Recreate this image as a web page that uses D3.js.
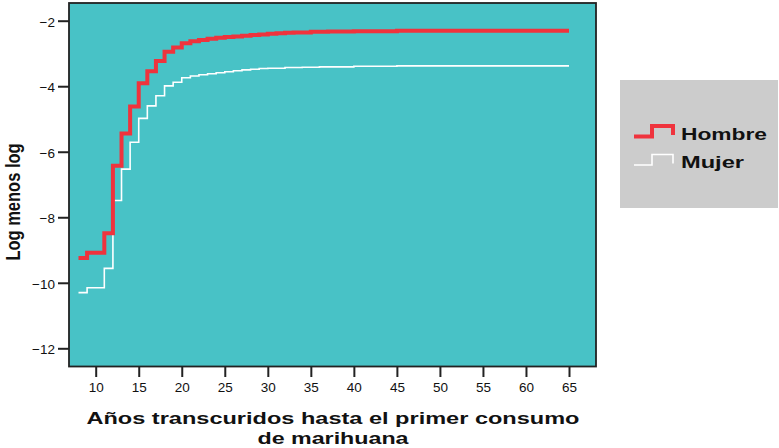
<!DOCTYPE html>
<html><head><meta charset="utf-8">
<script src="https://cdn.jsdelivr.net/npm/d3@7"></script>
<style>body{margin:0;background:#fff}svg{display:block}text{font-family:"Liberation Sans",Arial,sans-serif}</style>
</head><body><svg id="c" width="779" height="448"></svg>
<script>
// Data
const hombreTimes  = [8, 9, 11, 12, 13, 14, 15, 16, 17, 18, 19, 20, 21, 22, 23, 24, 25, 26, 27, 28, 29, 30, 31, 32, 33, 35, 37, 40, 45, 65];
const hombreValues = [-9.24, -9.08, -8.49, -6.43, -5.44, -4.62, -3.91, -3.54, -3.23, -2.95, -2.82, -2.69, -2.63, -2.59, -2.55, -2.52, -2.50, -2.48, -2.46, -2.44, -2.42, -2.40, -2.38, -2.37, -2.36, -2.34, -2.33, -2.32, -2.31, -2.31];
const mujerTimes   = [8, 9, 11, 12, 13, 14, 15, 16, 17, 18, 19, 20, 21, 22, 23, 24, 25, 26, 27, 28, 29, 30, 32, 34, 36, 40, 45, 65];
const mujerValues  = [-10.30, -10.15, -9.56, -7.49, -6.53, -5.71, -4.98, -4.60, -4.29, -3.99, -3.88, -3.74, -3.69, -3.65, -3.62, -3.59, -3.56, -3.53, -3.50, -3.48, -3.46, -3.45, -3.43, -3.42, -3.41, -3.39, -3.38, -3.38];
const xTicks = [10, 15, 20, 25, 30, 35, 40, 45, 50, 55, 60, 65];
const yTicks = [-2, -4, -6, -8, -10, -12];
const seriesNames = ["Hombre", "Mujer"];
const xTitle = ["Años transcuridos hasta el primer consumo", "de marihuana"];
const yTitle = "Log menos log";

const svg = d3.select("#c");
const x = d3.scaleLinear().domain([10, 65]).range([95.7, 569]);
const y = d3.scaleLinear().domain([-2, -12]).range([20.7, 348.3]);
const plot = {x0: 69, x1: 596, y0: 3, y1: 366.5};

svg.append("rect").attr("x", plot.x0).attr("y", plot.y0)
  .attr("width", plot.x1 - plot.x0).attr("height", plot.y1 - plot.y0)
  .attr("fill", "#48c2c6");

const line = d3.line().x(d => x(d[0])).y(d => y(d[1])).curve(d3.curveStepAfter);
const mujer = mujerTimes.map((t, i) => [t, mujerValues[i]]);
const hombre = hombreTimes.map((t, i) => [t, hombreValues[i]]);
svg.append("path").attr("d", line(mujer)).attr("fill", "none").attr("stroke", "#ffffff").attr("stroke-width", 1.6);
svg.append("path").attr("d", line(hombre)).attr("fill", "none").attr("stroke", "#ef333d").attr("stroke-width", 4);

svg.append("rect").attr("x", plot.x0).attr("y", plot.y0)
  .attr("width", plot.x1 - plot.x0).attr("height", plot.y1 - plot.y0)
  .attr("fill", "none").attr("stroke", "#222").attr("stroke-width", 1.8);

// Axes
const xAxis = d3.axisBottom(x).tickValues(xTicks).tickSize(10).tickPadding(3);
const gx = svg.append("g").attr("transform", `translate(0,${plot.y1 + 0.5})`).call(xAxis);
gx.select(".domain").remove();
gx.selectAll(".tick line").attr("stroke", "#222").attr("stroke-width", 2);
gx.selectAll(".tick text").attr("font-size", 13.5).attr("fill", "#111").attr("dy", "0.9em");

const yAxis = d3.axisLeft(y).tickValues(yTicks).tickSize(11).tickPadding(3);
const gy = svg.append("g").attr("transform", `translate(${plot.x0},0)`).call(yAxis);
gy.select(".domain").remove();
gy.selectAll(".tick line").attr("stroke", "#222").attr("stroke-width", 2);
gy.selectAll(".tick text").attr("font-size", 13.5).attr("fill", "#111").attr("dy", "0.4em");

// Titles
svg.append("text").attr("x", 333).attr("y", 424).attr("text-anchor", "middle")
  .attr("font-size", 17).attr("font-weight", "bold").attr("fill", "#111")
  .attr("textLength", 493).attr("lengthAdjust", "spacingAndGlyphs").text(xTitle[0]);
svg.append("text").attr("x", 333).attr("y", 444).attr("text-anchor", "middle")
  .attr("font-size", 17).attr("font-weight", "bold").attr("fill", "#111")
  .attr("textLength", 151).attr("lengthAdjust", "spacingAndGlyphs").text(xTitle[1]);
svg.append("text").attr("transform", "translate(20,202) scale(1.25,1) rotate(-90)").attr("text-anchor", "middle")
  .attr("font-size", 16.5).attr("font-weight", "bold").attr("fill", "#111").text(yTitle);

// Legend
svg.append("rect").attr("x", 620).attr("y", 80).attr("width", 158).attr("height", 128).attr("fill", "#cccccc");
const legendColors = ["#ef333d", "#ffffff"];
const legendWidths = [4, 1.6];
const legendLens = [86, 63];
seriesNames.forEach((name, i) => {
  const by = 136.5 + i * 28.5;
  svg.append("path")
    .attr("d", `M634,${by}H652V${by - 10.5}H673V${by - 1.5}`)
    .attr("fill", "none").attr("stroke", legendColors[i]).attr("stroke-width", legendWidths[i]);
  svg.append("text").attr("x", 681).attr("y", by + 3).attr("font-size", 16).attr("font-weight", "bold")
    .attr("fill", "#111").attr("textLength", legendLens[i]).attr("lengthAdjust", "spacingAndGlyphs").text(name);
});
</script></body></html>
